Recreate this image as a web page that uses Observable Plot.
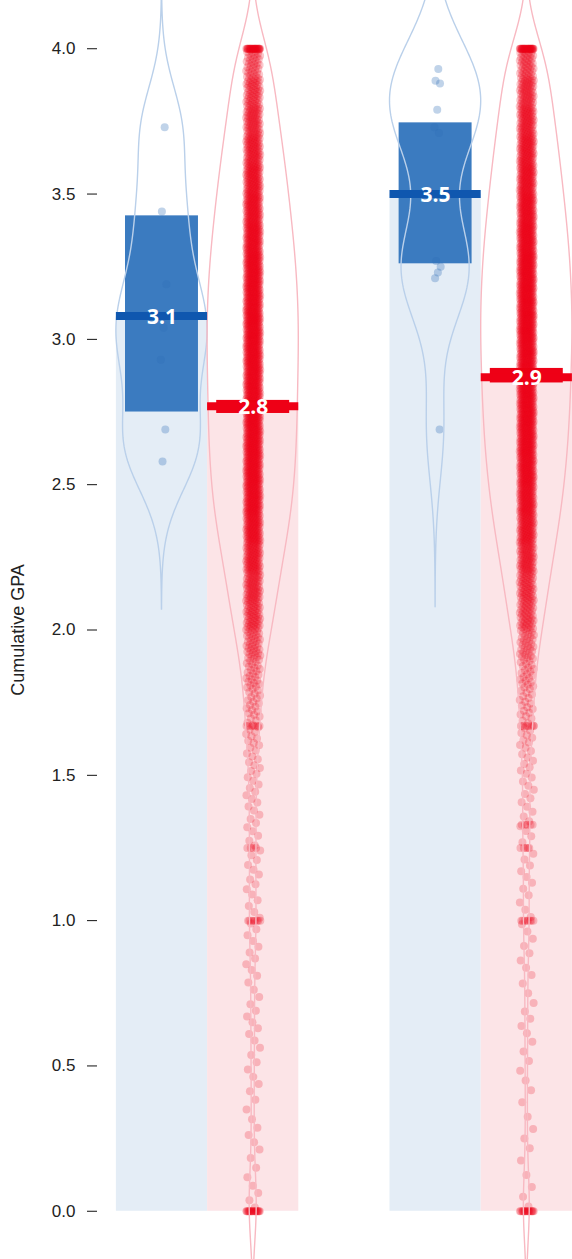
<!DOCTYPE html>
<html>
<head>
<meta charset="utf-8">
<script src="https://cdn.jsdelivr.net/npm/d3@7"></script>
<script src="https://cdn.jsdelivr.net/npm/@observablehq/plot@0.6"></script>
<style>
  html, body { margin: 0; padding: 0; background: #fff; }
  #chart svg { display: block; }
</style>
</head>
<body>
<div id="chart"></div>
<script>
// ---------------- data ----------------
const groups = ["Group 1", "Group 2"];
const subgroups = ["Blue", "Red"];
// order: Group1-Blue, Group1-Red, Group2-Blue, Group2-Red
const means   = [3.08, 2.77, 3.50, 2.87];
const hdiLow  = [2.75, 2.745, 3.26, 2.85];
const hdiHigh = [3.425, 2.79, 3.745, 2.90];

const blue1Values = [3.73, 3.44, 3.19, 3.04, 2.93, 2.69, 2.58];
const blue2Values = [3.93, 3.89, 3.88, 3.79, 3.73, 3.71, 3.27, 3.25, 3.23, 3.21, 2.69];

// red groups: number of students per 0.1-wide GPA bin
const binStarts = [0.0,0.1,0.2,0.3,0.4,0.5,0.6,0.7,0.8,0.9,
                   1.0,1.1,1.2,1.3,1.4,1.5,1.6,1.7,1.8,1.9,
                   2.0,2.1,2.2,2.3,2.4,2.5,2.6,2.7,2.8,2.9,
                   3.0,3.1,3.2,3.3,3.4,3.5,3.6,3.7,3.8,3.9];
const red1BinCounts = [4,3,4,3,4,4,5,4,5,5,
                       5,6,6,7,8,10,13,18,25,38,
                       55,62,75,90,100,105,108,110,110,112,
                       115,110,108,100,92,85,75,65,55,40];
const red2BinCounts = [3,2,3,2,3,3,4,3,4,4,
                       4,5,5,6,7,9,12,16,22,32,
                       48,55,68,82,92,100,106,110,112,114,
                       118,114,112,106,98,90,82,72,62,48];
// exact GPA values shared by many students: [gpa, count]
const red1Exact = [[0.0, 20], [1.0, 8], [1.25, 4], [1.67, 6], [4.0, 30]];
const red2Exact = [[0.0, 18], [1.0, 8], [1.25, 4], [1.33, 5], [1.67, 6], [4.0, 32]];

const yTicks = [0, 0.5, 1, 1.5, 2, 2.5, 3, 3.5, 4];

// ---------------- styles ----------------
const lightFill  = {Blue: "#e4edf6", Red: "#fce4e7"};
const bandFill   = {Blue: "#3b7bc0", Red: "#ee0016"};
const lineColor  = {Blue: "#0f57af", Red: "#ee0016"};
const pointColor = {Blue: "#2d6cb5", Red: "#ee0016"};
const pointAlpha = {Blue: 0.3, Red: 0.22};
const violinColor = {Blue: "#bad0ea", Red: "#f8b9c2"};
const bandwidth = {Blue1: 0.15, Blue2: 0.18, Red: 0.12};

// ---------------- build tables ----------------
function expandBins(counts, exact) {
  const out = [];
  counts.forEach((n, i) => {
    const lo = binStarts[i];
    for (let k = 0; k < n; k++) out.push(lo + (k + 0.5) / n * 0.1);
  });
  exact.forEach(([v, n]) => { for (let k = 0; k < n; k++) out.push(v); });
  return out;
}
const beanValues = [blue1Values, expandBins(red1BinCounts, red1Exact),
                    blue2Values, expandBins(red2BinCounts, red2Exact)];
const beanBw = [bandwidth.Blue1, bandwidth.Red, bandwidth.Blue2, bandwidth.Red];

const beans = [];
groups.forEach((g, gi) => subgroups.forEach((s, si) => {
  const i = gi * 2 + si;
  beans.push({id: i, group: g, sub: s, pos: gi * 3 + si,
              mean: means[i], lo: hdiLow[i], hi: hdiHigh[i]});
}));

const jit = (i, J) => ((((i + 1) * 0.6180339887) % 1) - 0.5) * 2 * J;

const points = [];
beans.forEach(b => {
  const J = b.sub === "Red" ? 0.078 : 0.04;
  beanValues[b.id].forEach((v, i) => {
    points.push({sub: b.sub, y: v, x: b.pos + jit(i, J) + (b.sub === "Blue" ? 0.02 : 0)});
  });
});

function kde(values, bw, y0, y1) {
  const grid = d3.range(y0, y1 + 1e-9, 0.01);
  const dens = grid.map(y => {
    let s = 0;
    for (const v of values) { const z = (y - v) / bw; if (z > -6 && z < 6) s += Math.exp(-0.5 * z * z); }
    return s;
  });
  const m = d3.max(dens);
  return grid.map((y, i) => ({y, w: dens[i] / m * 0.5}));
}
const violins = [];
beans.forEach(b => {
  const vals = beanValues[b.id], bw = beanBw[b.id];
  const y0 = b.sub === "Red" ? -0.35 : d3.min(vals) - 3.4 * bw;
  const y1 = b.sub === "Red" ? 4.35 : d3.max(vals) + 3.4 * bw;
  kde(vals, bw, y0, y1).forEach(r => violins.push({bean: b.id, sub: b.sub, y: r.y, x1: b.pos - r.w, x2: b.pos + r.w}));
});

// ---------------- chart ----------------
const chart = Plot.plot({
  width: 572,
  height: 1259,
  marginLeft: 97,
  marginRight: 0,
  marginTop: 0,
  marginBottom: 0,
  style: {fontFamily: "'Liberation Sans', Arial, sans-serif", fontSize: "16px", background: "#fff"},
  x: {type: "linear", domain: [-0.707, 4.501], axis: null},
  y: {type: "linear", domain: [-0.166, 4.166], axis: null},
  marks: [
    // background bars (0 to mean)
    Plot.rect(beans, {x1: d => d.pos - 0.5, x2: d => d.pos + 0.5, y1: 0, y2: "mean",
                      fill: d => lightFill[d.sub]}),
    // inference bands
    Plot.rect(beans, {x1: d => d.pos - 0.4, x2: d => d.pos + 0.4, y1: "lo", y2: "hi",
                      fill: d => bandFill[d.sub]}),
    // raw points
    Plot.dot(points.filter(d => d.sub === "Red"), {x: "x", y: "y", r: 4, fill: pointColor.Red,
                      fillOpacity: pointAlpha.Red, stroke: "none", clip: true}),
    Plot.dot(points.filter(d => d.sub === "Blue"), {x: "x", y: "y", r: 4, fill: pointColor.Blue,
                      fillOpacity: pointAlpha.Blue, stroke: "none", clip: true}),
    // violins
    Plot.areaX(violins, {y: "y", x1: "x1", x2: "x2", z: "bean", fill: "none",
                      stroke: d => violinColor[d.sub], strokeWidth: 1.4, clip: true}),
    // mean lines
    Plot.ruleY(beans, {y: "mean", x1: d => d.pos - 0.5, x2: d => d.pos + 0.5,
                      stroke: d => lineColor[d.sub], strokeWidth: 8}),
    // mean labels
    Plot.text(beans, {x: "pos", y: "mean", text: d => d.mean.toFixed(1), fill: "white",
                      fontWeight: "bold", fontSize: 21, fontFamily: "'Open Sans', sans-serif", dy: 1}),
    // y axis
    Plot.axisY(yTicks, {tickSize: 10, tickPadding: 12, tickFormat: d3.format(".1f"),
                      label: null, fontSize: 17, stroke: "#111", fill: "#222"}),
    Plot.text(["Cumulative GPA"], {frameAnchor: "left", dx: -79, rotate: -90, textAnchor: "middle",
                      fontSize: 18, fill: "#222"})
  ]
});
document.getElementById("chart").appendChild(chart);
</script>
</body>
</html>
